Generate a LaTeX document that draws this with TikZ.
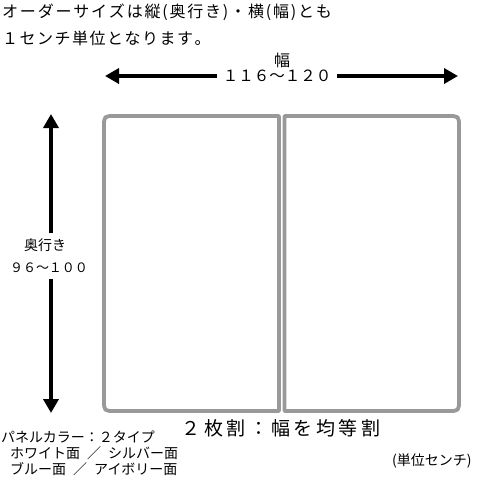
\documentclass[tikz,border=0pt]{standalone}
\usepackage{fontspec}
\setmainfont{Noto Sans CJK JP}
\newfontfamily\jpwide[LetterSpace=18]{Noto Sans CJK JP}
\usetikzlibrary{arrows.meta}
\tikzset{
  txt/.style={inner sep=0pt, text=black},
  arr/.style={line width=3.6pt, -{Triangle[width=15pt,length=14pt]}},
  panel/.style={draw=black!40, line width=3.8pt, line join=round},
}
\newcommand{\fs}[1]{\fontsize{#1pt}{#1pt}\selectfont}
\newdimen\spk
\def\spaced#1#2{\spk=#1\relax\spacedi#2\relax}
\def\spacedi#1{\ifx\relax#1\else#1\kern\spk\expandafter\spacedi\fi}
\begin{document}
\begin{tikzpicture}[x=1pt,y=-1pt]
\useasboundingbox[fill=white] (0,0) rectangle (480,480);
% header text
\node[txt, anchor=west] (t1) at (2,12) {\fs{16}\spaced{1.8pt}{オーダーサイズは縦(奥行き)・横(幅)とも}};
\node[txt, anchor=west] (t2) at (2,38) {\fs{16}\spaced{1.5pt}{１センチ単位となります。}};
% width dimension
\node[txt] (wlab) at (282,60) {\fs{16}幅};
\node[txt, inner xsep=6pt] (wnum) at (277,76) {\fs{15.5}１１６～１２０};
\coordinate (wl) at (105,76);
\coordinate (wr) at (458,76);
\draw[arr] (wnum) -- (wl);
\draw[arr] (wnum) -- (wr);
% depth dimension
\node[txt] (dlab) at (45,245) {\fs{14}奥行き};
\node[txt] (dnum) at (49,268) {\fs{13}９６～１００};
\coordinate (dt) at (51,114);
\coordinate (db) at (51,413);
\draw[arr] ([yshift=5pt]dlab.north -| dt) -- (dt);
\draw[arr] ([yshift=-6pt]dnum.south -| db) -- (db);
% panels
\draw[panel] (279,411) -- (279,116) -- (115,116) .. controls (104,116) .. (104,127) -- (104,400) .. controls (104,411) .. (115,411) -- cycle;
\draw[panel] (284.5,411) -- (284.5,116) -- (448,116) .. controls (459,116) .. (459,127) -- (459,400) .. controls (459,411) .. (448,411) -- cycle;
% bottom texts
\node[txt] (split) at (281,428) {\jpwide\fs{19}２枚割：幅を均等割};
\node[txt, anchor=west] (c1) at (1,437) {\fs{14}パネルカラー：２タイプ};
\node[txt, anchor=west] (c2) at (10,453) {\fs{14}ホワイト面\hspace{7pt}／\hspace{7pt}シルバー面};
\node[txt, anchor=west] (c3) at (10,469) {\fs{14}ブルー面\hspace{7pt}／\hspace{7pt}アイボリー面};
\node[txt, anchor=west] (unit) at (392,461) {\fs{14}(単位センチ)};
\end{tikzpicture}
\end{document}
